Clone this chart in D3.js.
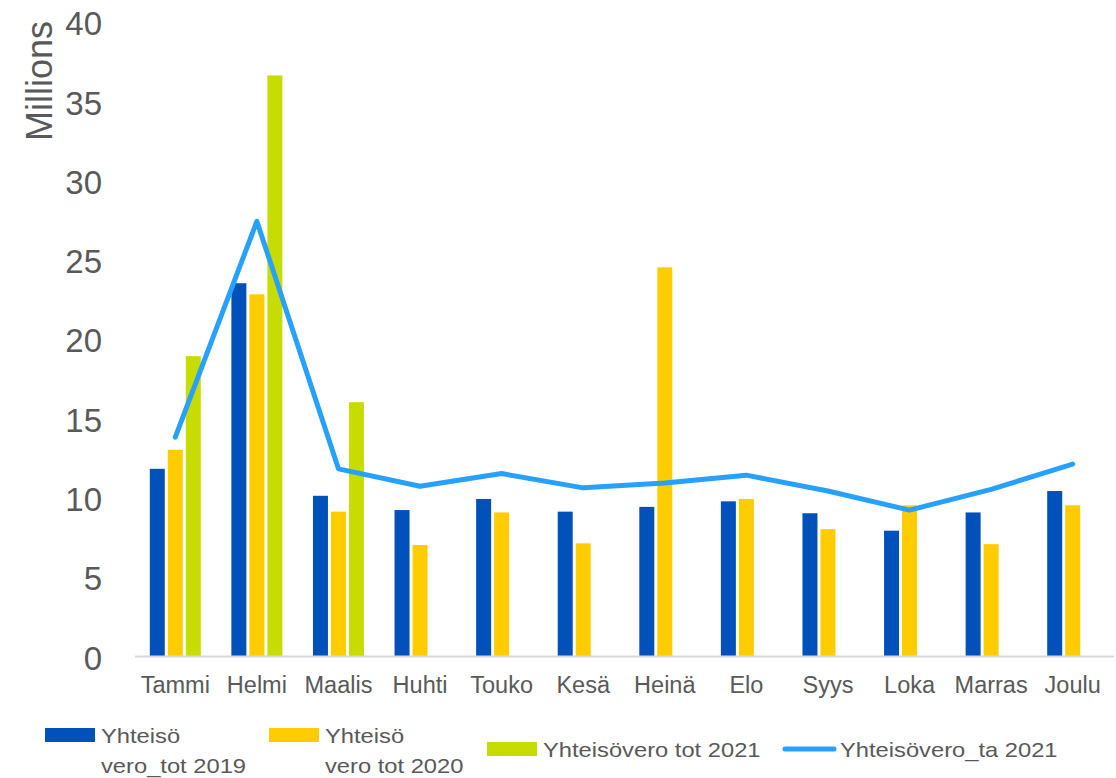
<!DOCTYPE html>
<html>
<head>
<meta charset="utf-8">
<script src="https://cdn.jsdelivr.net/npm/d3@7"></script>
<style>
  html, body { margin: 0; padding: 0; background: #fff; }
  svg text { font-family: Arial, "Liberation Sans", sans-serif; fill: #595959; }
</style>
</head>
<body>
<div id="graphic"></div>
<script>
var months = ["Tammi", "Helmi", "Maalis", "Huhti", "Touko", "Kesä", "Heinä", "Elo", "Syys", "Loka", "Marras", "Joulu"];
var yTicks = [0, 5, 10, 15, 20, 25, 30, 35, 40];

// values in millions
var vero2019 = [11.8, 23.5, 10.1, 9.2, 9.9, 9.1, 9.4, 9.75, 9.0, 7.9, 9.05, 10.4];
var vero2020 = [13.0, 22.8, 9.1, 7.0, 9.05, 7.1, 24.5, 9.9, 8.0, 9.5, 7.05, 9.5];
var vero2021 = [18.9, 36.6, 16.0, null, null, null, null, null, null, null, null, null];
var veroTa2021 = [13.8, 27.4, 11.8, 10.7, 11.5, 10.6, 10.9, 11.4, 10.4, 9.2, 10.5, 12.1];

var barNames = [["Yhteisö", "vero_tot 2019"], ["Yhteisö", "vero tot 2020"], ["Yhteisövero tot 2021"]];
var lineName = "Yhteisövero_ta 2021";
var barColors = ["#0051BA", "#FFCC00", "#C7DC00"];
var lineColor = "#27A1FF";

var graphic = new Object;

graphic.create = function() {
  var width = 1116, height = 778;
  var svg = d3.select("#graphic").append("svg").attr("width", width).attr("height", height);

  var x = d3.scaleBand().domain(months).range([134.5, 1113.5]).padding(0);
  var xs = d3.scaleBand().domain([0, 1, 2]).range([-25.5, 25.5]).paddingInner(1 / 6);
  var y = d3.scaleLinear().domain([0, 40]).range([656, 21.5]);

  // y axis labels
  var yAxis = svg.append("g").attr("transform", "translate(134,0)")
    .call(d3.axisLeft(y).tickValues(yTicks).tickSize(0).tickPadding(32));
  yAxis.select(".domain").remove();
  yAxis.selectAll("text").attr("font-size", 33).attr("dy", "0.4em")
    .style("font-family", "Arial, 'Liberation Sans', sans-serif").attr("fill", "#595959");

  svg.append("text").attr("transform", "translate(52,81) rotate(-90)")
    .attr("text-anchor", "middle").attr("font-size", 36).text("Millions");

  // bars
  var series = [vero2019, vero2020, vero2021];
  series.forEach(function(vals, s) {
    svg.append("g").selectAll("rect").data(months.map(function(m, i) { return {m: m, v: vals[i]}; })
      .filter(function(d) { return d.v != null; }))
      .enter().append("rect")
      .attr("x", function(d) { return x(d.m) + x.bandwidth() / 2 + xs(s); })
      .attr("width", xs.bandwidth())
      .attr("y", function(d) { return y(d.v); })
      .attr("height", function(d) { return y(0) - y(d.v); })
      .attr("fill", barColors[s]);
  });

  // x axis
  var xAxis = svg.append("g").attr("transform", "translate(0,656)")
    .call(d3.axisBottom(x).tickSize(0).tickSizeOuter(0).tickPadding(20));
  xAxis.select(".domain").attr("stroke", "#D9D9D9").attr("stroke-width", 2);
  xAxis.selectAll("text").attr("font-size", 23.5)
    .style("font-family", "Arial, 'Liberation Sans', sans-serif").attr("fill", "#595959");

  // line
  var line = d3.line()
    .x(function(d, i) { return x(months[i]) + x.bandwidth() / 2; })
    .y(function(d) { return y(d); });
  svg.append("path").datum(veroTa2021).attr("d", line)
    .attr("fill", "none").attr("stroke", lineColor).attr("stroke-width", 5)
    .attr("stroke-linejoin", "round").attr("stroke-linecap", "round");

  // legend
  var legend = svg.append("g");
  var items = [
    {x: 45, y: 728, lines: barNames[0], color: barColors[0]},
    {x: 269, y: 728, lines: barNames[1], color: barColors[1]},
    {x: 487, y: 742, lines: barNames[2], color: barColors[2]}
  ];
  items.forEach(function(it) {
    legend.append("rect").attr("x", it.x).attr("y", it.y).attr("width", 50).attr("height", 14).attr("fill", it.color);
    it.lines.forEach(function(t, k) {
      legend.append("text")
        .attr("transform", "translate(" + (it.x + 56) + "," + (it.y + 15 + k * 30) + ") scale(1.13,1)")
        .attr("font-size", 21).text(t);
    });
  });
  legend.append("line").attr("x1", 785).attr("x2", 834).attr("y1", 749).attr("y2", 749)
    .attr("stroke", lineColor).attr("stroke-width", 5).attr("stroke-linecap", "round");
  legend.append("text").attr("transform", "translate(840,757) scale(1.13,1)")
    .attr("font-size", 21).text(lineName);
};

graphic.create();
</script>
</body>
</html>
